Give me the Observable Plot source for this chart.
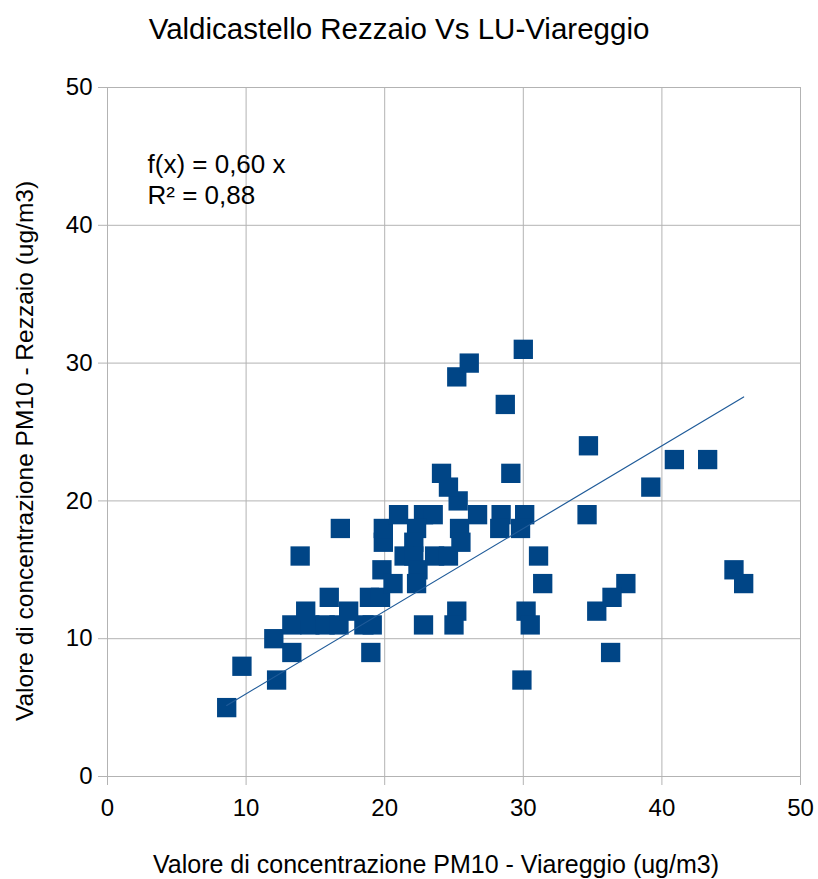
<!DOCTYPE html>
<html>
<head>
<meta charset="utf-8">
<script src="https://cdn.jsdelivr.net/npm/d3@7"></script>
<script src="https://cdn.jsdelivr.net/npm/@observablehq/plot@0.6"></script>
<style>
  html, body { margin: 0; padding: 0; background: #fff; }
  #chart svg { display: block; }
</style>
</head>
<body>
<div id="chart"></div>
<script>
const title = "Valdicastello Rezzaio Vs LU-Viareggio";
const xLabel = "Valore di concentrazione PM10 - Viareggio (ug/m3)";
const yLabel = "Valore di concentrazione PM10 - Rezzaio (ug/m3)";
const xTicks = [0, 10, 20, 30, 40, 50];
const yTicks = [0, 10, 20, 30, 40, 50];
const trendSlope = 0.60;
const trendText = "f(x) = 0,60 x\nR² = 0,88";

const viareggio = [8.6, 9.7, 12.2, 12.0, 13.3, 13.9, 16.8,
  13.3, 14.6, 15.7, 16.7, 18.5, 19.1,
  19.0,
  14.3, 17.4,
  16.0, 18.9, 19.7,
  19.8, 20.6, 19.9, 19.9,
  21.0, 22.8, 23.5, 26.7, 28.4, 30.1,
  22.3, 25.4, 28.3, 29.8,
  22.1, 25.5,
  21.4, 22.1, 23.6, 24.6, 31.1,
  22.4,
  22.3, 31.4,
  25.2, 30.2,
  22.8, 25.0, 30.5,
  29.9,
  25.3, 24.6, 24.1, 29.1,
  28.7, 25.2, 26.1, 30.0,
  34.7, 40.9, 43.3, 39.2, 34.6,
  45.2, 45.9, 37.4, 36.4, 35.3, 36.3];
const rezzaio = [5, 8, 7, 10, 9, 16, 18,
  11, 11, 11, 11, 11, 11,
  9,
  12, 12,
  13, 13, 13,
  15, 14, 17, 18,
  19, 19, 19, 19, 19, 19,
  18, 18, 18, 18,
  17, 17,
  16, 16, 16, 16, 16,
  15,
  14, 14,
  12, 12,
  11, 11, 11,
  7,
  20, 21, 22, 22,
  27, 29, 30, 31,
  24, 23, 23, 21, 19,
  15, 14, 14, 13, 12, 9];

const data = viareggio.map((x, i) => ({x, y: rezzaio[i]}));
const xMin = d3.min(viareggio), xMax = d3.max(viareggio);
const trend = [xMin, xMax].map(x => ({x, y: trendSlope * x}));

const grid = "#b3b3b3";
const chart = Plot.plot({
  width: 818,
  height: 879,
  marginLeft: 107,
  marginRight: 18,
  marginTop: 87,
  marginBottom: 103,
  style: {fontFamily: "'Liberation Sans', Arial, sans-serif", fontSize: "24px", color: "#000", background: "#fff"},
  x: {domain: [0, 50]},
  y: {domain: [0, 50]},
  marks: [
    Plot.gridX(xTicks, {stroke: grid, strokeOpacity: 1, strokeWidth: 1}),
    Plot.gridY(yTicks, {stroke: grid, strokeOpacity: 1, strokeWidth: 1}),
    Plot.axisX(xTicks, {tickSize: 9, tickPadding: 13, stroke: grid, fill: "#000", fontSize: 24, label: null, tickFormat: d => String(d)}),
    Plot.axisY(yTicks, {tickSize: 9, tickPadding: 6, stroke: grid, fill: "#000", fontSize: 24, label: null, tickFormat: d => String(d)}),
    Plot.dot(data, {x: "x", y: "y", symbol: "square", r: 10.9, fill: "#004586", stroke: null}),
    Plot.line(trend, {x: "x", y: "y", stroke: "#1f5b99", strokeWidth: 1.2}),
    Plot.text([trendText], {frameAnchor: "top-left", dx: 40, dy: 116, textAnchor: "start", lineAnchor: "bottom", lineHeight: 1.16, fontSize: 26, fill: "#000"}),
    Plot.text([title], {frameAnchor: "top", dx: -55, dy: -49, textAnchor: "middle", lineAnchor: "bottom", fontSize: 29.5, fill: "#000"}),
    Plot.text([xLabel], {frameAnchor: "bottom", dx: -18, dy: 96, textAnchor: "middle", lineAnchor: "bottom", fontSize: 25, fill: "#000"}),
    Plot.text([yLabel], {frameAnchor: "left", dx: -75, dy: 19, rotate: -90, textAnchor: "middle", lineAnchor: "bottom", fontSize: 24.5, fill: "#000"})
  ]
});
document.getElementById("chart").appendChild(chart);
</script>
</body>
</html>
